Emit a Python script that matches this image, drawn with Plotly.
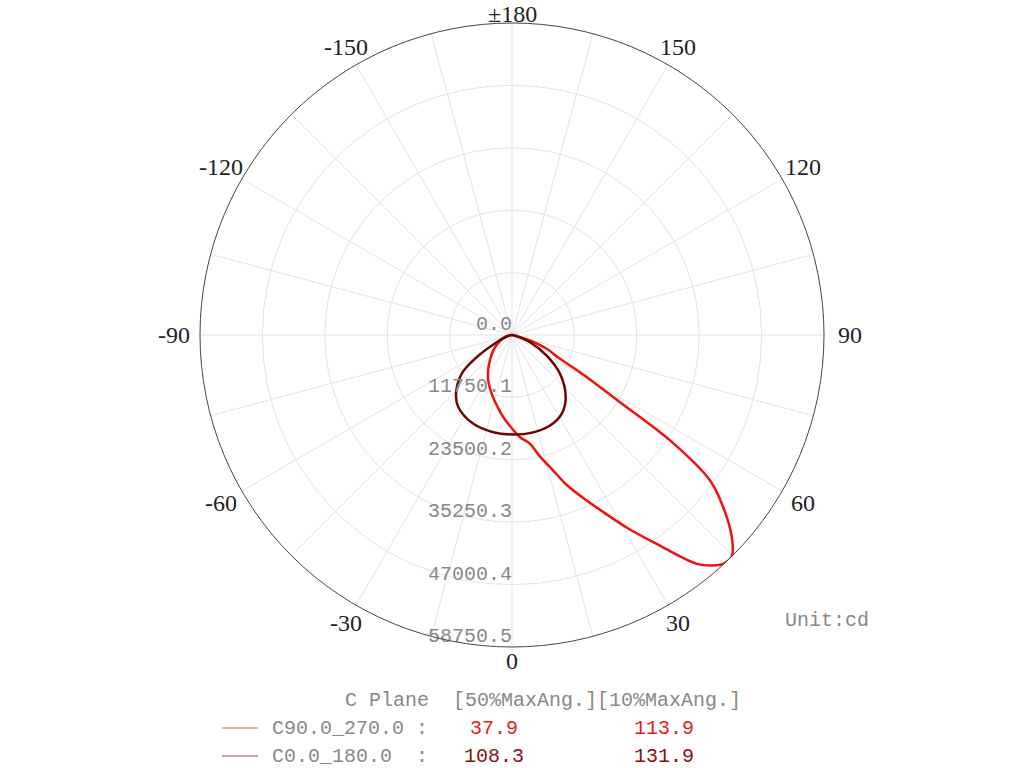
import math
import plotly.graph_objects as go

# ---- data ----
c90_theta = [-90, -80, -70, -60, -54, -48, -41, -34, -27, -19, -12, -6, 0, 4.5, 9.4, 13, 16.9, 20,
             24.3, 27.3, 31, 34.7, 38.9, 41, 42.7, 44.8, 47.4, 50.8, 53.7, 56.3, 58.1, 61.3,
             63.6, 68.3, 73, 76, 80, 90]
c90_r = [0, 600, 1800, 3000, 3940, 5000, 6340, 8040, 9800, 11710, 13600, 15570, 17600, 19300,
         20770, 23500, 26680, 30000, 34190, 37530, 42500, 47830, 55370, 57500, 58640, 58750,
         56230, 51330, 46270, 35780, 23950, 14600, 10090, 7030, 3540, 1500, 300, 0]

c0_theta = [-90, -75, -64.8, -57.8, -52.4, -43.6, -36.6, -23.5, -10.9, 0.7, 10.4, 22.8, 32.2,
            40.8, 51.1, 59.4, 68.2, 75, 90]
c0_r = [0, 900, 3180, 7850, 11960, 15290, 16940, 18240, 18640, 18740, 18790, 18490, 17550,
        15480, 11620, 7590, 3650, 1000, 0]

r_max = 58750.5
r_ticks = [0, 11750.1, 23500.2, 35250.3, 47000.4, 58750.5]
r_labels = ["0.0", "11750.1", "23500.2", "35250.3", "47000.4", "58750.5"]
grid_ticks = list(range(0, 360, 15))
ang_ticks = list(range(0, 360, 30))
ang_labels = ["0", "30", "60", "90", "120", "150", "±180", "-150", "-120", "-90", "-60", "-30"]

legend_names = ["C90.0_270.0 :", "C0.0_180.0  :"]
ang50 = ["37.9", "108.3"]
ang10 = ["113.9", "131.9"]
colors = ["#f01010", "#6e0505"]
value_colors = ["#e81c1c", "#8a1010"]
sample_colors = ["rgba(235,120,120,0.8)", "rgba(170,100,100,0.8)"]

mono = "Liberation Mono"
W, H = 1024, 768
# polar area in pixels
px_left, px_right, px_top, px_bottom = 200, 824, 23, 647
cx, cy = (px_left + px_right) / 2, (px_top + px_bottom) / 2
R = (px_right - px_left) / 2

fig = go.Figure()
fig.add_trace(go.Scatterpolar(r=c90_r, theta=c90_theta, mode="lines",
                              line=dict(color=colors[0], width=2.5, shape="spline"),
                              showlegend=False, hoverinfo="skip"))
fig.add_trace(go.Scatterpolar(r=c0_r, theta=c0_theta, mode="lines",
                              line=dict(color=colors[1], width=2.5, shape="spline"),
                              showlegend=False, hoverinfo="skip"))
# radial tick labels
fig.add_trace(go.Scatterpolar(r=r_ticks, theta=[0] * len(r_ticks),
                              mode="text", text=r_labels, textposition="top left",
                              textfont=dict(family=mono, size=20, color="#888"),
                              cliponaxis=False, showlegend=False, hoverinfo="skip"))

fig.update_layout(
    width=W, height=H,
    margin=dict(l=0, r=0, t=0, b=0),
    paper_bgcolor="white", plot_bgcolor="white",
    polar=dict(
        domain=dict(x=[px_left/W, px_right/W], y=[1-px_bottom/H, 1-px_top/H]),
        bgcolor="white",
        angularaxis=dict(rotation=-90, direction="counterclockwise",
                         tickmode="array", tickvals=grid_ticks, showticklabels=False,
                         showline=True, linecolor="#444", linewidth=1,
                         gridcolor="#e3e3e3", gridwidth=1, ticks=""),
        radialaxis=dict(range=[0, r_max], angle=-90,
                        tickmode="array", tickvals=r_ticks, showticklabels=False,
                        showline=False, gridcolor="#e3e3e3", gridwidth=1, ticks=""),
    ),
)

annotations = []
# angular tick labels placed just outside the outer ring
for ang, lab in zip(ang_ticks, ang_labels):
    t = math.radians(ang)
    d = R + 14 + 12 * abs(math.sin(t))
    px = cx + d * math.sin(t)
    py = cy + d * math.cos(t)
    if py < 16:
        ann = dict(y=1, yanchor="top")
    else:
        ann = dict(y=1 - py/H, yanchor="middle")
    ann.update(text=lab, x=px/W, xanchor="center", borderpad=0,
               font=dict(family="Liberation Serif", size=24, color="#222"))
    annotations.append(ann)

annotations += [
    dict(text="Unit:cd", x=783/W, y=1-620/H, xanchor="left", yanchor="middle",
         font=dict(family=mono, size=20, color="#888")),
    dict(text="C Plane  [50%MaxAng.][10%MaxAng.]", x=343/W, y=1-700/H,
         xanchor="left", yanchor="middle", font=dict(family=mono, size=20, color="#888")),
]
row_y = [728, 756]
shapes = []
for i in range(2):
    yy = 1 - row_y[i]/H
    annotations.append(dict(text=legend_names[i], x=270/W, y=yy, xanchor="left",
                            yanchor="middle", font=dict(family=mono, size=20, color="#888")))
    annotations.append(dict(text=ang50[i], x=494/W, y=yy, xanchor="center",
                            yanchor="middle", font=dict(family=mono, size=20, color=value_colors[i])))
    annotations.append(dict(text=ang10[i], x=664/W, y=yy, xanchor="center",
                            yanchor="middle", font=dict(family=mono, size=20, color=value_colors[i])))
    shapes.append(dict(type="line", xref="paper", yref="paper", x0=222/W, x1=258/W,
                       y0=yy, y1=yy, line=dict(color=sample_colors[i], width=1.5)))
for a in annotations:
    a.update(xref="paper", yref="paper", showarrow=False)
fig.update_layout(annotations=annotations, shapes=shapes)

fig.write_html("out.html", config={"displayModeBar": False},
               post_script="document.body.style.margin='0';document.body.style.overflow='hidden';")
